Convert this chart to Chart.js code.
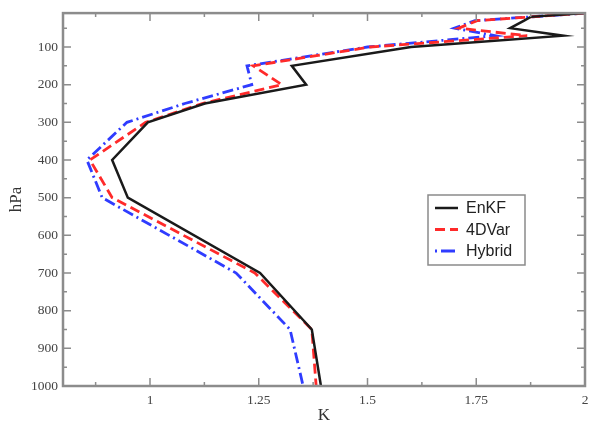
<!DOCTYPE html>
<html>
<head>
<meta charset="utf-8">
<script src="https://cdn.jsdelivr.net/npm/chart.js@4"></script>
<style>
  body { margin: 0; background: #fff; }
  canvas { display: block; }
</style>
</head>
<body>
<canvas id="profileChart" width="597" height="426"></canvas>
<script>
// pressure levels (hPa) and RMS values (K) per experiment
const levels = [10, 20, 30, 50, 70, 100, 150, 200, 250, 300, 400, 500, 700, 850, 1000];
const enkf   = [2.0, 1.875, 1.86, 1.828, 1.95, 1.60, 1.326, 1.359, 1.126, 0.995, 0.913, 0.949, 1.253, 1.372, 1.393];
const fdvar  = [2.0, 1.876, 1.752, 1.71, 1.867, 1.506, 1.237, 1.303, 1.12, 0.99, 0.862, 0.913, 1.241, 1.372, 1.382];
const hybrid = [2.0, 1.875, 1.747, 1.70, 1.793, 1.50, 1.223, 1.234, 1.08, 0.947, 0.855, 0.89, 1.198, 1.322, 1.352];

const xTicks = [1, 1.25, 1.5, 1.75, 2];
const xMinor = [0.875, 1.125, 1.375, 1.625, 1.875];
const yTicks = [100, 200, 300, 400, 500, 600, 700, 800, 900, 1000];
const yMinor = [50, 150, 250, 350, 450, 550, 650, 750, 850, 950];

const series = [
    { label: 'EnKF',   values: enkf,   color: '#1a1a1a', dash: [],             width: 2.5 },
    { label: '4DVar',  values: fdvar,  color: '#ff2a2a', dash: [10, 5],        width: 2.8 },
    { label: 'Hybrid', values: hybrid, color: '#2f3cff', dash: [11, 4, 2, 4],  width: 2.8 }
];

const frameColor = '#8c8c8c';
const serif = "'Liberation Serif', 'DejaVu Serif', serif";

// frame, inward tick marks and the boxed legend
const framePlugin = {
    id: 'frame',
    afterDatasetsDraw(chart) {
        const { ctx, chartArea: a, scales } = chart;
        ctx.save();
        ctx.strokeStyle = frameColor;
        ctx.lineWidth = 1.5;
        const tick = (vals, len) => {
            vals.forEach(v => {
                const px = scales.x.getPixelForValue(v);
                ctx.beginPath();
                ctx.moveTo(px, a.bottom); ctx.lineTo(px, a.bottom - len);
                ctx.moveTo(px, a.top); ctx.lineTo(px, a.top + len);
                ctx.stroke();
            });
        };
        const tickY = (vals, len) => {
            vals.forEach(v => {
                const py = scales.y.getPixelForValue(v);
                ctx.beginPath();
                ctx.moveTo(a.left, py); ctx.lineTo(a.left + len, py);
                ctx.moveTo(a.right, py); ctx.lineTo(a.right - len, py);
                ctx.stroke();
            });
        };
        tick(xTicks, 8); tick(xMinor, 4);
        tickY(yTicks, 8); tickY(yMinor, 4);

        ctx.lineWidth = 2.5;
        ctx.strokeRect(a.left, a.top, a.right - a.left, a.bottom - a.top);

        // legend
        const bx = a.right - 157, by = 195, bw = 97, bh = 70;
        ctx.lineWidth = 1.5;
        ctx.strokeStyle = '#8a8a8a';
        ctx.fillStyle = '#fff';
        ctx.fillRect(bx, by, bw, bh);
        ctx.strokeRect(bx, by, bw, bh);
        ctx.font = "16px 'Liberation Sans', Arial, sans-serif";
        ctx.textBaseline = 'middle';
        series.forEach((s, i) => {
            const y = by + 13 + i * 21.5;
            ctx.strokeStyle = s.color;
            ctx.lineWidth = s.width;
            ctx.setLineDash(s.label === 'Hybrid' ? [2, 4, 14, 4] : s.dash);
            ctx.beginPath();
            ctx.moveTo(bx + 7, y); ctx.lineTo(bx + 30, y);
            ctx.stroke();
            ctx.setLineDash([]);
            ctx.fillStyle = '#222';
            ctx.fillText(s.label, bx + 38, y + 1);
        });
        ctx.restore();
    }
};

new Chart(document.getElementById('profileChart'), {
    type: 'scatter',
    data: {
        datasets: series.map(s => ({
            label: s.label,
            data: s.values.map((v, i) => ({ x: v, y: levels[i] })),
            showLine: true,
            borderColor: s.color,
            backgroundColor: s.color,
            borderDash: s.dash,
            borderWidth: s.width,
            pointRadius: 0,
            tension: 0
        }))
    },
    options: {
        responsive: false,
        animation: false,
        layout: { padding: { top: 9, right: 12, left: 0, bottom: 0 } },
        plugins: { legend: { display: false }, tooltip: { enabled: false } },
        scales: {
            x: {
                type: 'linear',
                min: 0.8,
                max: 2,
                afterBuildTicks: s => { s.ticks = xTicks.map(v => ({ value: v })); },
                afterFit: s => { s.height = 40; },
                grid: { display: false, drawTicks: false },
                border: { display: false },
                ticks: {
                    padding: 6,
                    color: '#444',
                    font: { family: serif, size: 13.5 },
                    callback: v => String(v)
                },
                title: {
                    display: true,
                    text: 'K',
                    color: '#333',
                    font: { family: serif, size: 17 },
                    padding: { top: 0, bottom: 0 }
                }
            },
            y: {
                type: 'linear',
                reverse: true,
                min: 10,
                max: 1000,
                afterBuildTicks: s => { s.ticks = yTicks.map(v => ({ value: v })); },
                afterFit: s => { s.width = 63; },
                grid: { display: false, drawTicks: false },
                border: { display: false },
                ticks: {
                    padding: 5,
                    color: '#444',
                    font: { family: serif, size: 13.5 },
                    callback: v => String(v)
                },
                title: {
                    display: true,
                    text: 'hPa',
                    color: '#333',
                    font: { family: serif, size: 17 },
                    padding: { top: 6, bottom: 0 }
                }
            }
        }
    },
    plugins: [framePlugin]
});
</script>
</body>
</html>
